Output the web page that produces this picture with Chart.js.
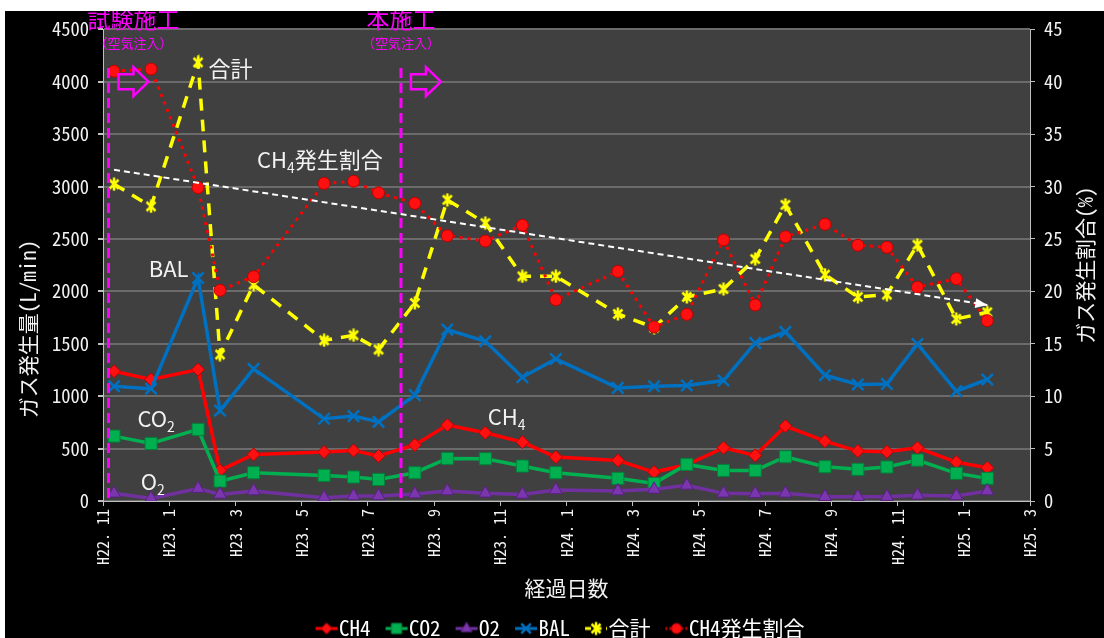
<!DOCTYPE html>
<html lang="ja">
<head>
<meta charset="utf-8">
<title>ガス発生量の推移</title>
<script src="https://cdn.jsdelivr.net/npm/chart.js@4.4.1/dist/chart.umd.min.js"></script>
<style>
    html, body { margin: 0; padding: 0; background: #fff; }
    #wrap { position: absolute; left: 5px; top: 11px; width: 1099px; height: 627px; background: #000; }
</style>
</head>
<body>
<div id="wrap"><canvas id="gas_chart"></canvas></div>
<script>
// 測定日
const dates = ['2010-11-11', '2010-12-15', '2011-01-28', '2011-02-16', '2011-03-18',
    '2011-05-22', '2011-06-18', '2011-07-11', '2011-08-14', '2011-09-13',
    '2011-10-18', '2011-11-21', '2011-12-22', '2012-02-17', '2012-03-21',
    '2012-04-20', '2012-05-24', '2012-06-22', '2012-07-20', '2012-08-26',
    '2012-09-25', '2012-10-22', '2012-11-19', '2012-12-25', '2013-01-23']

// ガス発生量 (L/min)
const ch4 = [1238, 1159, 1254, 292, 444, 467, 482, 429, 535, 724, 651, 562, 419, 387, 276,
    345, 508, 435, 714, 571, 476, 470, 508, 371, 317]
const co2 = [619, 549, 683, 190, 270, 244, 229, 206, 270, 406, 403, 333, 270, 216, 168,
    349, 292, 292, 422, 327, 302, 324, 390, 264, 216]
const o2 = [73, 25, 118, 63, 95, 32, 48, 48, 66, 95, 73, 63, 105, 95, 111,
    149, 73, 70, 73, 41, 41, 41, 54, 48, 95]
const bal = [1095, 1070, 2127, 863, 1260, 784, 810, 755, 1010, 1635, 1524, 1181, 1355, 1079, 1095,
    1101, 1149, 1508, 1613, 1200, 1111, 1117, 1498, 1048, 1159]
const total = [3022, 2810, 4184, 1397, 2063, 1533, 1581, 1444, 1889, 2873, 2651, 2143, 2143, 1784, 1655,
    1946, 2022, 2308, 2825, 2159, 1946, 1968, 2444, 1737, 1800]

// CH4発生割合 (%)
const ch4_ratio = [41.0, 41.2, 29.9, 20.1, 21.4, 30.3, 30.5, 29.4, 28.4, 25.3, 24.8, 26.3, 19.2, 21.9, 16.6,
    17.8, 24.9, 18.7, 25.2, 26.4, 24.4, 24.2, 20.4, 21.2, 17.2]

// 空気注入の開始
const phase_dates = ['2010-11-06', '2011-08-01']
const phase_names = ['試験施工', '本施工']
const phase_notes = ['（空気注入）', '（空気注入）']

// 発生割合の傾向 (矢印)
const trend_dates = ['2010-11-11', '2013-01-23']
const trend_ratio = [31.6, 18.7]

const MONO = "'Noto Sans Mono CJK JP', 'Noto Sans CJK JP', monospace"
const CJK = "'Noto Sans CJK JP', sans-serif"
const TEXT = '#f2f2f2'
const MAGENTA = '#FF00FF'

// H22.11 からの月数
function to_month(s) {
    let [y, m, d] = s.split('-').map(Number)
    let days = new Date(y, m, 0).getDate()
    return (y - 2010) * 12 + (m - 11) + (d - 1) / days
}

function month_label(v) {
    let n = 10 + v
    let year = 2010 + Math.floor(n / 12)
    let month = n % 12 + 1
    return `H${year - 1988}. ${month}`
}

function pts(values) {
    return dates.map((d, i) => ({x: to_month(d), y: values[i]}))
}

// 合計のマーカー (x に縦棒)
const star_marker = (() => {
    const c = document.createElement('canvas')
    c.width = 14
    c.height = 14
    const g = c.getContext('2d')
    g.strokeStyle = '#FFFF00'
    g.lineWidth = 2.5
    g.beginPath()
    g.moveTo(2.5, 2.5); g.lineTo(11.5, 11.5)
    g.moveTo(11.5, 2.5); g.lineTo(2.5, 11.5)
    g.moveTo(7, 0.5); g.lineTo(7, 13.5)
    g.stroke()
    return c
})()

const datasets = [
    {label: 'CH4', data: pts(ch4), yAxisID: 'y', order: 6,
        borderColor: '#FF0000', borderWidth: 3.5,
        pointStyle: 'rectRot', pointRadius: 6.5, pointBackgroundColor: '#FF1010', pointBorderColor: '#C00000', pointBorderWidth: 1},
    {label: 'CO2', data: pts(co2), yAxisID: 'y', order: 5,
        borderColor: '#00B050', borderWidth: 3.5,
        pointStyle: 'rect', pointRadius: 8.5, pointBackgroundColor: '#00B050', pointBorderColor: '#00803a', pointBorderWidth: 1},
    {label: 'O2', data: pts(o2), yAxisID: 'y', order: 4,
        borderColor: '#7030A0', borderWidth: 3.5,
        pointStyle: 'triangle', pointRadius: 7.5, pointBackgroundColor: '#7a36ad', pointBorderColor: '#5a2080', pointBorderWidth: 1},
    {label: 'BAL', data: pts(bal), yAxisID: 'y', order: 3,
        borderColor: '#0070C0', borderWidth: 3.5,
        pointStyle: 'crossRot', pointRadius: 8, pointBackgroundColor: '#0070C0', pointBorderColor: '#0070C0', pointBorderWidth: 2.5},
    {label: '合計', data: pts(total), yAxisID: 'y', order: 2,
        borderColor: '#FFFF00', borderWidth: 3.5, borderDash: [12, 9],
        pointStyle: star_marker, pointRadius: 7, pointBackgroundColor: '#FFFF00', pointBorderColor: '#FFFF00'},
    {label: 'CH4発生割合', data: pts(ch4_ratio), yAxisID: 'y2', order: 1,
        borderColor: '#FF0000', borderWidth: 3, borderDash: [3, 5],
        pointStyle: 'circle', pointRadius: 6, pointBackgroundColor: '#FF1010', pointBorderColor: '#C00000', pointBorderWidth: 1},
    {label: '', data: trend_dates.map((d, i) => ({x: to_month(d), y: trend_ratio[i]})), yAxisID: 'y2', order: 0,
        borderColor: '#ffffff', borderWidth: 2, borderDash: [6, 4], pointRadius: 0}
]

// 凡例用の小さな線+マーカー (左側は項目間の余白)
function legend_icon(ds) {
    const c = document.createElement('canvas')
    c.width = 46
    c.height = 18
    const g = c.getContext('2d')
    g.strokeStyle = ds.borderColor
    g.lineWidth = 3
    if (ds.borderDash) g.setLineDash(ds.borderDash.map(v => v * 0.5))
    g.beginPath()
    g.moveTo(22, 9)
    g.lineTo(44, 9)
    g.stroke()
    g.setLineDash([])
    if (ds.pointStyle instanceof HTMLCanvasElement) {
        g.drawImage(ds.pointStyle, 33 - ds.pointStyle.width / 2, 9 - ds.pointStyle.height / 2)
    } else {
        g.fillStyle = ds.pointBackgroundColor
        g.strokeStyle = ds.pointBorderColor
        g.lineWidth = ds.pointBorderWidth
        Chart.helpers.drawPoint(g, {pointStyle: ds.pointStyle, radius: ds.pointRadius * 0.85,
            borderWidth: ds.pointBorderWidth, rotation: 0}, 33, 9)
    }
    return c
}

const icons = datasets.map(legend_icon)

function draw_parts(ctx, parts, x, y) {
    parts.forEach(p => {
        ctx.font = p.font
        ctx.fillText(p.text, x, y + (p.dy || 0))
        x += ctx.measureText(p.text).width
    })
}

const overlay = {
    id: 'overlay',
    beforeDraw(chart) {
        const {ctx, chartArea: a} = chart
        ctx.save()
        ctx.fillStyle = '#404040'
        ctx.fillRect(a.left, a.top, a.right - a.left, a.bottom - a.top)
        ctx.restore()
    },
    afterDatasetsDraw(chart) {
        const {ctx, chartArea: a, scales} = chart
        const sx = scales.x, sy = scales.y
        ctx.save()

        // 施工開始の縦線と矢印
        phase_dates.forEach((d, i) => {
            let x = sx.getPixelForValue(to_month(d))
            ctx.strokeStyle = MAGENTA
            ctx.lineWidth = 3
            ctx.setLineDash([10, 5])
            ctx.beginPath()
            ctx.moveTo(x, sy.getPixelForValue(4130))
            ctx.lineTo(x, a.bottom - 3)
            ctx.stroke()
            ctx.setLineDash([])

            let x0 = x + 10, yc = sy.getPixelForValue(4000)
            ctx.lineWidth = 2.5
            ctx.beginPath()
            ctx.moveTo(x0, yc - 7.5)
            ctx.lineTo(x0 + 15, yc - 7.5)
            ctx.lineTo(x0 + 15, yc - 14.5)
            ctx.lineTo(x0 + 30, yc)
            ctx.lineTo(x0 + 15, yc + 14.5)
            ctx.lineTo(x0 + 15, yc + 7.5)
            ctx.lineTo(x0, yc + 7.5)
            ctx.closePath()
            ctx.stroke()

            let cx = x + (i == 0 ? 25 : 0)
            ctx.fillStyle = MAGENTA
            ctx.textAlign = 'center'
            ctx.textBaseline = 'middle'
            ctx.font = `23px ${CJK}`
            ctx.fillText(phase_names[i], cx, 8)
            ctx.font = `13px ${CJK}`
            ctx.fillText(phase_notes[i], cx, 32)
        })

        // 傾向線の矢じり
        const tp = chart.getDatasetMeta(6).data
        let p0 = tp[0], p1 = tp[1]
        let ang = Math.atan2(p1.y - p0.y, p1.x - p0.x)
        ctx.fillStyle = '#ffffff'
        ctx.beginPath()
        ctx.moveTo(p1.x, p1.y)
        ctx.lineTo(p1.x - 12 * Math.cos(ang) + 5 * Math.sin(ang), p1.y - 12 * Math.sin(ang) - 5 * Math.cos(ang))
        ctx.lineTo(p1.x - 12 * Math.cos(ang) - 5 * Math.sin(ang), p1.y - 12 * Math.sin(ang) + 5 * Math.cos(ang))
        ctx.closePath()
        ctx.fill()

        // 系列名の書き込み
        ctx.fillStyle = TEXT
        ctx.textAlign = 'left'
        ctx.textBaseline = 'middle'
        const big = `22px ${CJK}`, sub = `14px ${CJK}`, jp = `22px ${CJK}`
        const notes = [
            {m: 3.19, v: 4124, parts: [{text: '合計', font: jp}]},
            {m: 4.65, v: 3252, parts: [{text: 'CH', font: big}, {text: '4', font: sub, dy: 8}, {text: '発生割合', font: jp}]},
            {m: 1.38, v: 2219, parts: [{text: 'BAL', font: big}]},
            {m: 1.04, v: 781, parts: [{text: 'CO', font: big}, {text: '2', font: sub, dy: 8}]},
            {m: 1.14, v: 181, parts: [{text: 'O', font: big}, {text: '2', font: sub, dy: 8}]},
            {m: 11.62, v: 800, parts: [{text: 'CH', font: big}, {text: '4', font: sub, dy: 8}]}
        ]
        notes.forEach(n => draw_parts(ctx, n.parts, sx.getPixelForValue(n.m), sy.getPixelForValue(n.v)))
        ctx.restore()
    },
    afterDraw(chart) {
        const {ctx, chartArea: a} = chart
        ctx.save()
        ctx.fillStyle = TEXT
        ctx.textAlign = 'center'
        ctx.textBaseline = 'middle'
        ctx.font = `21px ${MONO}`
        ctx.translate(23, 318)
        ctx.rotate(-Math.PI / 2)
        ctx.fillText('ガス発生量(L/min)', 0, 0)
        ctx.restore()

        ctx.save()
        ctx.fillStyle = TEXT
        ctx.textAlign = 'center'
        ctx.textBaseline = 'middle'
        ctx.font = `21px ${MONO}`
        ctx.translate(1080, (a.top + a.bottom) / 2)
        ctx.rotate(-Math.PI / 2)
        ctx.fillText('ガス発生割合(%)', 0, 0)
        ctx.restore()
    }
}

new Chart(document.getElementById('gas_chart'), {
    type: 'line',
    data: {datasets: datasets},
    plugins: [overlay],
    options: {
        responsive: true,
        maintainAspectRatio: false,
        animation: false,
        layout: {padding: {top: 16.5, left: 0, right: 0, bottom: -11}},
        elements: {line: {tension: 0}},
        plugins: {
            tooltip: {enabled: false},
            legend: {
                position: 'bottom',
                labels: {
                    usePointStyle: true,
                    pointStyleWidth: 24,
                    padding: 4,
                    color: '#ffffff',
                    font: {family: MONO, size: 21},
                    generateLabels: chart => chart.data.datasets.map((ds, i) => ({
                        text: ds.label, pointStyle: icons[i], datasetIndex: i, hidden: false,
                        fontColor: '#ffffff', lineWidth: 0, strokeStyle: 'rgba(0,0,0,0)', fillStyle: 'rgba(0,0,0,0)'
                    })).filter(l => l.text)
                }
            }
        },
        scales: {
            x: {
                type: 'linear', min: 0, max: 28,
                afterFit: s => { s.height = 113 },
                ticks: {stepSize: 2, autoSkip: false, minRotation: 90, maxRotation: 90, padding: 3,
                    color: TEXT, font: {family: MONO, size: 16}, callback: v => month_label(v)},
                grid: {drawOnChartArea: false, color: '#bfbfbf', tickLength: 5},
                border: {color: '#bfbfbf', width: 1},
                title: {display: true, text: '経過日数', color: TEXT, font: {family: MONO, size: 21}, padding: {top: 0, bottom: 13}}
            },
            y: {
                position: 'left', min: 0, max: 4500,
                afterFit: s => { s.width = 98 },
                ticks: {stepSize: 500, color: TEXT, font: {family: MONO, size: 18.5, lineHeight: 1}, padding: 9, callback: v => v},
                grid: {color: '#6b6b6b', lineWidth: 2, tickColor: '#bfbfbf', tickLength: 5},
                border: {color: '#bfbfbf', width: 1}
            },
            y2: {
                position: 'right', min: 0, max: 45,
                afterFit: s => { s.width = 74 },
                ticks: {stepSize: 5, color: TEXT, font: {family: MONO, size: 18.5, lineHeight: 1}, padding: 9, callback: v => v},
                grid: {drawOnChartArea: false, color: '#bfbfbf', tickLength: 5},
                border: {color: '#bfbfbf', width: 1}
            }
        }
    }
})
</script>
</body>
</html>
